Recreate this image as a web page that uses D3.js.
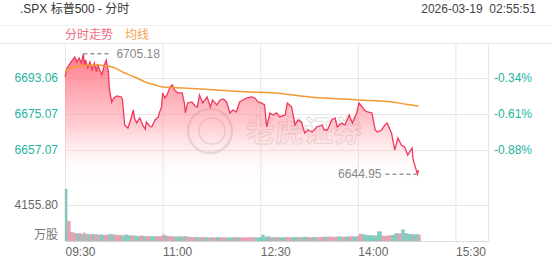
<!DOCTYPE html>
<html>
<head>
<meta charset="utf-8">
<script src="https://cdn.jsdelivr.net/npm/d3@7"></script>
<style>
  body { margin: 0; background: #fff; }
  svg { display: block; font-family: "Liberation Sans", Arial, "Noto Sans CJK SC", sans-serif; }
</style>
</head>
<body>
<svg></svg>
<script>
// intraday data
const times = ["09:30","09:32","09:35","09:37","09:39","09:41","09:43","09:45","09:47","09:48",
    "09:49","09:51","09:53","09:55","09:57","09:59","10:00","10:02","10:04","10:06",
    "10:08","10:10","10:11","10:13","10:15","10:18","10:22","10:23","10:25","10:28",
    "10:31","10:33","10:34","10:36","10:39","10:42","10:44","10:45","10:48","10:50",
    "10:53","10:56","10:57","10:59","11:00","11:02","11:04","11:07","11:09","11:11",
    "11:14","11:18","11:20","11:21","11:23","11:27","11:30","11:32","11:34","11:37",
    "11:41","11:44","11:46","11:50","11:53","11:56","11:59","12:02","12:05","12:08",
    "12:11","12:14","12:18","12:22","12:25","12:28","12:31","12:34","12:36","12:39",
    "12:42","12:45","12:48","12:53","12:55","12:59","13:02","13:05","13:08","13:11",
    "13:14","13:18","13:22","13:27","13:29","13:32","13:36","13:39","13:41","13:45",
    "13:48","13:51","13:52","13:55","13:59","14:01","14:04","14:06","14:09","14:13",
    "14:16","14:18","14:22","14:25","14:27","14:31","14:34","14:37","14:40","14:43",
    "14:46","14:50","14:51","14:53","14:55","14:56"];

const prices = [6693.58,6698.08,6700.58,6702.08,6703.58,6701.08,6703.08,6700.58,6705.18,6699.08,
    6702.08,6698.08,6701.08,6697.08,6700.58,6696.08,6700.08,6697.08,6694.58,6699.08,
    6702.08,6696.08,6687.08,6681.08,6683.08,6684.08,6683.58,6682.08,6669.58,6668.08,
    6673.08,6677.08,6673.08,6670.58,6673.08,6669.08,6667.58,6671.08,6669.08,6668.58,
    6672.08,6673.58,6675.58,6678.58,6685.58,6683.08,6684.58,6688.58,6689.58,6687.08,
    6685.58,6685.58,6680.58,6675.58,6680.58,6681.08,6679.08,6678.58,6684.58,6680.58,
    6683.58,6678.58,6682.08,6679.58,6682.08,6682.58,6681.08,6675.58,6677.08,6676.08,
    6681.08,6682.08,6683.08,6683.58,6683.08,6681.08,6680.58,6679.58,6668.58,6675.58,
    6674.58,6675.58,6673.58,6674.58,6680.58,6678.58,6669.58,6672.08,6671.08,6665.58,
    6667.08,6666.08,6668.58,6669.58,6667.08,6667.08,6672.08,6673.08,6668.58,6670.58,
    6669.58,6673.08,6674.58,6670.58,6675.58,6680.58,6678.58,6677.08,6676.08,6675.58,
    6667.08,6666.08,6667.08,6669.58,6670.58,6665.58,6657.08,6663.08,6659.58,6658.58,
    6654.58,6658.08,6652.08,6648.58,6644.95,6647.08];

// volume in 万股
const volumes = [6000,2300,1000,950,900,850,900,800,950,850,
    800,780,760,800,740,720,700,760,700,680,
    720,660,800,750,700,680,620,600,720,640,
    600,620,580,560,600,560,540,560,520,540,
    520,500,540,560,720,600,560,520,500,480,
    520,480,560,500,460,440,460,420,440,430,
    400,420,400,420,390,400,380,400,420,380,
    400,380,420,400,390,420,700,460,520,420,
    440,420,400,430,440,420,450,430,440,460,
    430,450,440,470,460,480,450,470,500,460,
    480,500,520,500,560,800,760,700,660,600,
    620,1100,580,560,620,700,900,850,1300,900,
    800,760,720,780,800,700];

// average line
const avgTimes = ["09:30","09:35","09:44","09:58","10:10","10:16","10:23","10:34","10:44","10:53",
    "11:00","11:19","11:50","12:20","12:44","13:15","14:01","14:32","14:43","14:56"];
const avgPrices = [6696.08,6698.08,6699.08,6699.58,6699.08,6698.08,6696.08,6693.58,6691.08,6689.58,
    6688.58,6688.08,6687.08,6686.08,6685.58,6683.58,6682.08,6681.08,6680.08,6679.08];

const priceTicks = [6657.07, 6675.07, 6693.06];
const pctLabels = ["-0.88%", "-0.61%", "-0.34%"];
const volTick = [4155.80];
const xTicks = ["09:30","11:00","12:30","14:00","15:30"];

const parse = d3.timeParse("%H:%M");

function createElements(){
    const svg = d3.select('svg')
        .attr('width', 552)
        .attr('height', 265);

    const left = 65, right = 488;
    const priceTop = 42, priceBottom = 186;
    const volTop = 187, volBottom = 241;

    const x = d3.scaleTime()
        .domain([parse("09:30"), parse("16:00")])
        .range([left, right]);
    const y = d3.scaleLinear()
        .domain([6639.08, 6711.05])
        .range([priceBottom, priceTop]);
    const yVol = d3.scaleLinear()
        .domain([0, 6233.7])
        .range([volBottom, volTop]);

    const data = times.map((t, i) => ({t: parse(t), p: prices[i], v: volumes[i]}));
    const avg = avgTimes.map((t, i) => ({t: parse(t), p: avgPrices[i]}));

    // header
    svg.append('text')
        .attr('x', 20).attr('y', 13)
        .attr('font-size', 12).attr('fill', '#333')
        .text('.SPX 标普500 - 分时');
    svg.append('text')
        .attr('x', 536).attr('y', 13)
        .attr('text-anchor', 'end')
        .attr('font-size', 12).attr('fill', '#444')
        .attr('xml:space', 'preserve')
        .text('2026-03-19  02:55:51');

    svg.append('line').attr('x1', 0).attr('x2', 552).attr('y1', 25.5).attr('y2', 25.5)
        .attr('stroke', '#f0f0f0');
    svg.append('line').attr('x1', 0).attr('x2', 552).attr('y1', 43.5).attr('y2', 43.5)
        .attr('stroke', '#ececec');

    svg.append('text')
        .attr('x', 65).attr('y', 39)
        .attr('font-size', 12).attr('fill', '#ef6b7f')
        .text('分时走势');
    svg.append('text')
        .attr('x', 125).attr('y', 39)
        .attr('font-size', 12).attr('fill', '#f4a24c')
        .text('均线');

    // vertical grid + x labels
    const xAxis = svg.append('g')
        .attr('transform', `translate(0, ${volBottom})`)
        .call(d3.axisBottom(x)
            .tickValues(xTicks.map(parse))
            .tickSize(-(volBottom - 44))
            .tickPadding(6)
            .tickFormat(d3.timeFormat("%H:%M")));
    xAxis.select('.domain').attr('stroke', '#dcdcdc');
    xAxis.selectAll('.tick line').attr('stroke', '#e6e6e6');
    xAxis.selectAll('.tick text')
        .attr('text-anchor', 'start')
        .attr('x', 0)
        .attr('font-size', 12).attr('fill', '#666')
        .attr('font-family', '"Liberation Sans", Arial, sans-serif');

    svg.append('line')
        .attr('x1', right + 0.5).attr('x2', right + 0.5)
        .attr('y1', 44).attr('y2', volBottom)
        .attr('stroke', '#e6e6e6');

    // price grid + labels
    const yAxis = svg.append('g')
        .attr('transform', `translate(${left}, 0)`)
        .call(d3.axisLeft(y)
            .tickValues(priceTicks)
            .tickSize(-(right - left))
            .tickPadding(7)
            .tickFormat(d3.format('.2f')));
    yAxis.select('.domain').remove();
    yAxis.selectAll('.tick line').attr('stroke', '#e6e6e6');
    yAxis.selectAll('.tick text')
        .attr('font-size', 12).attr('fill', '#1fb3a0')
        .attr('font-family', '"Liberation Sans", Arial, sans-serif');

    const pctAxis = svg.append('g')
        .attr('transform', `translate(${right}, 0)`)
        .call(d3.axisRight(y)
            .tickValues(priceTicks)
            .tickSize(0)
            .tickPadding(6)
            .tickFormat((d, i) => pctLabels[i]));
    pctAxis.select('.domain').remove();
    pctAxis.selectAll('.tick text')
        .attr('font-size', 12).attr('fill', '#1fb3a0')
        .attr('font-family', '"Liberation Sans", Arial, sans-serif');

    // volume grid + labels
    const vAxis = svg.append('g')
        .attr('transform', `translate(${left}, 0)`)
        .call(d3.axisLeft(yVol)
            .tickValues(volTick)
            .tickSize(-(right - left))
            .tickPadding(7)
            .tickFormat(d3.format('.2f')));
    vAxis.select('.domain').remove();
    vAxis.selectAll('.tick line').attr('stroke', '#e6e6e6');
    vAxis.selectAll('.tick text')
        .attr('font-size', 12).attr('fill', '#666')
        .attr('font-family', '"Liberation Sans", Arial, sans-serif');

    svg.append('text')
        .attr('x', 58).attr('y', 239)
        .attr('text-anchor', 'end')
        .attr('font-size', 12).attr('fill', '#777')
        .text('万股');

    // watermark
    const wm = svg.append('g')
        .attr('fill', 'none')
        .attr('stroke', 'rgba(150,150,150,0.3)');
    wm.append('circle').attr('cx', 210).attr('cy', 131).attr('r', 22).attr('stroke-width', 2.5);
    wm.append('circle').attr('cx', 212).attr('cy', 131).attr('r', 13).attr('stroke-width', 1.5);
    wm.append('text')
        .attr('x', 246).attr('y', 142)
        .attr('font-size', 29).attr('font-weight', 'bold')
        .attr('font-family', '"Noto Sans CJK SC", sans-serif')
        .attr('fill', 'rgba(255,255,255,0.15)')
        .attr('stroke-width', 1.2)
        .text('老虎证券');

    // gradient fill
    const grad = svg.append('defs').append('linearGradient')
        .attr('id', 'fillGrad')
        .attr('gradientUnits', 'userSpaceOnUse')
        .attr('x1', 0).attr('x2', 0)
        .attr('y1', 50).attr('y2', priceBottom);
    grad.append('stop').attr('offset', '0%').attr('stop-color', '#ff5a6c').attr('stop-opacity', 0.85);
    grad.append('stop').attr('offset', '55%').attr('stop-color', '#ff8f9a').attr('stop-opacity', 0.45);
    grad.append('stop').attr('offset', '100%').attr('stop-color', '#ffffff').attr('stop-opacity', 0);

    const area = d3.area()
        .x(d => x(d.t))
        .y0(priceBottom)
        .y1(d => y(d.p));
    svg.append('path')
        .datum(data)
        .attr('d', area)
        .attr('fill', 'url(#fillGrad)');

    const line = d3.line()
        .x(d => x(d.t))
        .y(d => y(d.p));
    svg.append('path')
        .datum(data)
        .attr('d', line)
        .attr('fill', 'none')
        .attr('stroke', '#f0385c')
        .attr('stroke-width', 1.3);

    svg.append('path')
        .datum(avg)
        .attr('d', d3.line().curve(d3.curveMonotoneX).x(d => x(d.t)).y(d => y(d.p)))
        .attr('fill', 'none')
        .attr('stroke', '#f39a32')
        .attr('stroke-width', 1.5);

    // high / low markers
    const hi = data[d3.maxIndex(data, d => d.p)];
    const lo = data[d3.minIndex(data, d => d.p)];

    svg.append('line')
        .attr('x1', x(hi.t)).attr('x2', x(hi.t) + 28)
        .attr('y1', y(hi.p)).attr('y2', y(hi.p))
        .attr('stroke', '#999').attr('stroke-width', 1.5)
        .attr('stroke-dasharray', '4,3');
    svg.append('text')
        .attr('x', x(hi.t) + 33).attr('y', y(hi.p) + 4)
        .attr('font-size', 12).attr('fill', '#888')
        .text(hi.p.toFixed(2));

    svg.append('line')
        .attr('x1', x(lo.t)).attr('x2', x(lo.t) - 32)
        .attr('y1', y(lo.p)).attr('y2', y(lo.p))
        .attr('stroke', '#999').attr('stroke-width', 1.5)
        .attr('stroke-dasharray', '4,3');
    svg.append('text')
        .attr('x', x(lo.t) - 36).attr('y', y(lo.p) + 4)
        .attr('text-anchor', 'end')
        .attr('font-size', 12).attr('fill', '#888')
        .text(lo.p.toFixed(2));

    // volume bars
    svg.append('g')
        .selectAll('rect')
        .data(data)
        .join('rect')
        .attr('x', d => x(d.t))
        .attr('width', (d, i) => i < data.length - 1 ? Math.max(1, x(data[i + 1].t) - x(d.t)) : 2)
        .attr('y', d => yVol(d.v))
        .attr('height', d => volBottom - yVol(d.v))
        .attr('fill', (d, i) => i === 0 || d.p < data[i - 1].p ? '#4fbfaa' : '#ee7d93')
        .attr('stroke', '#a9a9b2')
        .attr('stroke-width', 0.4)
        .attr('opacity', 0.75);
}

createElements();
</script>
</body>
</html>
